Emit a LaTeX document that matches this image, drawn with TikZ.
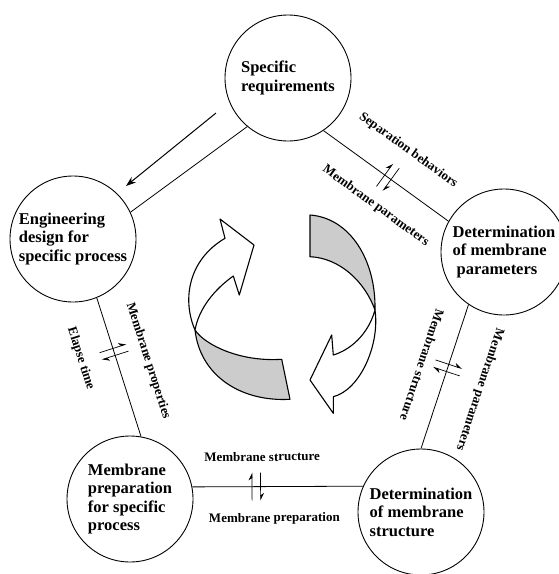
\documentclass[tikz,border=0pt]{standalone}
\usepackage{fontspec}
\setmainfont{Liberation Serif}
\usetikzlibrary{arrows.meta,calc}

\tikzset{
    stage/.style={draw,circle,line width=0.9pt,minimum size=126pt,inner sep=0pt,align=left,
        font=\fontsize{16.5}{18.5}\selectfont\bfseries},
    tag/.style={sloped,inner sep=0pt,font=\fontsize{13}{15}\selectfont\bfseries},
    link/.style={line width=0.8pt},
    harp/.style={line width=0.7pt,-{Stealth[harpoon,length=7pt,width=7pt]}},
    ribbon/.style={line width=1.1pt,line join=round},
}

\begin{document}
\begin{tikzpicture}[x=1pt,y=-1pt]
        \useasboundingbox (0,0) rectangle (559,574);
        %% Stages
        \node[stage] (req) at (288,78) {Specific\\requirements};
        \node[stage] (eng) at (73,239) {Engineering\\design for\\specific process};
        \node[stage] (par) at (504,252) {Determination\\of membrane\\\hspace*{4pt}parameters};
        \node[stage] (prep) at (130,499) {Membrane\\preparation\\for specific\\process};
        \node[stage] (str) at (421,512) {Determination\\of membrane\\structure};
        %% Links with their exchanges
        \draw[link] (req.230) -- (eng.25);
        \draw[link] (req.304) -- (par.151)
            node[tag,pos=0.52,above=27.5pt] (sep) {Separation behaviors}
            node[tag,pos=0.56,below=24pt] (mpa) {Membrane parameters}
            coordinate[pos=0.49] (h1) coordinate[pos=0.54] (h2);
        \draw[link] (eng.292) -- (prep.80)
            node[tag,pos=0.52,above=23.5pt] (mpr) {Membrane properties}
            node[tag,pos=0.365,below=27.5pt] (ela) {Elapse time}
            coordinate[pos=0.365] (h3) coordinate[pos=0.415] (h4);
        \draw[link] (par.236) -- (str.90)
            node[tag,allow upside down,pos=0.51,above=31pt] (mpb) {Membrane parameters}
            node[tag,allow upside down,pos=0.475,below=20pt] (msa) {Membrane structure}
            coordinate[pos=0.415] (h5) coordinate[pos=0.465] (h6);
        \draw[link] (prep.11) -- (str.156)
            node[tag,pos=0.41,above=25pt] (msb) {Membrane structure}
            node[tag,pos=0.48,below=26pt] (mpp) {Membrane preparation}
            coordinate[pos=0.35] (h7) coordinate[pos=0.4] (h8);
        \foreach \a/\b/\e in {h1/h2/par.151,h3/h4/prep.80,h5/h6/str.90,h7/h8/str.156} {
            \draw[harp] ($(\a)!14pt!-90:(\e)$) -- ($(\a)!14pt!90:(\e)$);
            \draw[harp] ($(\b)!14pt!90:(\e)$) -- ($(\b)!14pt!-90:(\e)$);
        }
        %% Feedback arrow
        \coordinate (fb0) at (216,113);
        \coordinate (fb1) at (126,186);
        \draw[line width=1pt,-{Stealth[length=10pt,width=7pt]}] (fb0) -- (fb1);
        %% Cycle arrows
        \filldraw[ribbon,fill=black!20] (195,330) .. controls (205,345) and (240,362) .. (281.7,359.3)
            -- (290,399.3) .. controls (240,402) and (200,375) .. (195,330) -- cycle;
        \filldraw[ribbon,fill=white] (220,219) -- (254,245) -- (239.3,295) -- (233.3,276)
            .. controls (215,289) and (199,308) .. (195,330)
            .. controls (182,300) and (188,260) .. (225,238.3) -- cycle;
        \filldraw[ribbon,fill=black!20] (310,215) .. controls (350,218) and (376,260) .. (375,310)
            .. controls (365,282) and (340,258) .. (310,256.7) -- cycle;
        \filldraw[ribbon,fill=white] (375,310) .. controls (380,345) and (360,390) .. (333.3,396.7)
            -- (333.3,413.3) -- (310,380) -- (331.7,335) -- (333.3,355)
            .. controls (350,350) and (368,335) .. (375,310) -- cycle;
\end{tikzpicture}
\end{document}
